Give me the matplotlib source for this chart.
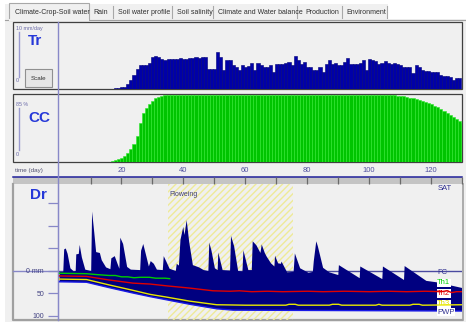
import numpy as np
import matplotlib.pyplot as plt
from matplotlib.patches import Rectangle

plt.rcParams['font.family'] = ['Liberation Sans Narrow', 'Liberation Sans', 'DejaVu Sans']
plt.rcParams['hatch.linewidth'] = 1.0

# ---- data ----
tr_days = list(range(18, 130))
tr_vals = [0.1, 0.1, 0.3, 0.4, 0.8, 1.5, 2.3, 3.3, 3.8, 3.8,
           3.9, 4.2, 5.1, 5.4, 5.2, 4.8, 4.7, 4.8, 4.9, 4.9,
           4.8, 5.0, 4.9, 4.9, 5.0, 5.0, 5.1, 5.0, 5.1, 5.1,
           3.2, 3.2, 3.2, 5.9, 5.2, 3.1, 4.7, 4.7, 3.9, 3.6,
           3.1, 3.8, 3.5, 3.7, 4.2, 3.0, 4.2, 3.9, 3.6, 3.5,
           3.9, 2.8, 4.1, 4.1, 4.0, 4.2, 4.4, 3.9, 5.3, 4.7,
           4.1, 4.4, 3.6, 3.5, 3.1, 3.1, 3.6, 2.8, 4.1, 4.7,
           4.1, 4.2, 3.8, 3.8, 4.4, 5.0, 4.1, 4.1, 4.0, 4.2,
           4.7, 3.0, 4.8, 4.7, 4.5, 4.1, 4.2, 4.5, 4.2, 4.1,
           4.2, 4.1, 3.9, 3.6, 3.5, 3.5, 2.6, 3.9, 3.6, 3.1,
           2.9, 2.9, 2.8, 2.8, 2.7, 2.2, 2.1, 2.1, 2.0, 1.4,
           1.7, 1.7]

cc_days = list(range(17, 131))
cc_vals = ([1.5, 2.5, 3.5, 5.5, 8, 12, 17, 23, 33, 50,
            62, 69, 74, 78, 81, 83, 84, 84.5]
           + [85] * 73
           + [84.7, 84.3, 83.8, 83.2, 82.5, 81.7, 80.8, 79.8, 78.7, 77.5,
              76.2, 74.8, 73.3, 71.5, 69.5, 67.3, 65, 62.5, 60, 57.5,
              55, 52, 49])

# root zone depletion (mm, negative = above field capacity)
dr_days = [0, 1.2, 1.5, 2.0, 2.6, 3.5, 4.6, 5.2, 5.4, 6.2, 6.5, 7.2, 8.3, 10.2, 10.5,
           11.2, 11.8, 13.0, 13.6, 15.0, 16.4, 16.7, 17.8, 18.7, 19.3, 19.6, 20.5, 21.8,
           23.0, 26.0, 26.3, 27.0, 27.8, 28.8, 29.4, 30.4, 31.4, 33.3, 33.6, 34.5, 35.5,
           37.5, 37.8, 38.5, 39.0, 39.9, 40.3, 41.0, 41.8, 43.0, 45.0, 46.5, 48.0, 48.3,
           49.0, 50.1, 51.0, 51.2, 52.6, 55.0, 55.3, 56.3, 57.6, 59.0, 59.3, 60.9, 62.0,
           62.3, 63.5, 64.8, 65.2, 66.2, 66.8, 68.2, 69.3, 69.5, 70.5, 71.4, 71.6, 73.4,
           75.5, 75.9, 77.6, 80.3, 81.7, 82.0, 82.8, 83.3, 85.0, 87.0, 89.9, 90.1, 96.8,
           97.0, 104.1, 104.3, 111.1, 111.3, 118.3, 121.5, 130.0]
dr_top = [2, 2, -48, -50, -38, -6, 1, 0, -37, -38, -58, -30, -3, 0, -132,
          -85, -42, -40, -24, -8, -4, -28, -33, -16, -5, -74, -60, -9,
          -3, -2, -45, -60, -38, -10, -22, -16, -3, -2, -33, -20, -5,
          0, -16, -12, -69, -98, -80, -113, -65, -13, -8, -2, 0, -63,
          -45, -6, -2, -41, -2, -1, -78, -55, 0, 1, -46, -2, -2,
          -66, -57, -40, -59, -40, -32, -17, -10, -34, -17, -16, -21, 3,
          2, -39, -6, 4, 2, -22, -66, -55, -7, 3, 9, -13, 16,
          -10, 18, -10, 20, -11, 22, 25, 38]

pwp_days = [0, 8.7, 16, 23.7, 29.2, 34.5, 42, 50.7, 56, 130]
pwp_vals = [24, 25, 37, 49, 57, 64, 74, 84, 87, 89]

th1_days = [0, 8.7, 12, 16, 18, 20, 22, 24, 26, 29, 31, 34, 35.5]
th1_vals = [5, 6, 8, 10, 10, 13, 13, 15, 14, 14, 16, 16, 17]

th2_days = [0, 8.7, 16, 23.7, 29.2, 34.5, 42, 49.5, 55, 58, 62, 67, 72, 80, 85, 92,
            100, 106, 112, 118, 123, 125, 126.5, 128, 130]
th2_vals = [11, 12, 20, 27, 29, 33, 38, 44, 45, 44, 46, 45, 46, 45, 46, 45,
            46, 45, 46, 45, 46, 44, 48, 46, 46]

th3_days = [0, 8.7, 16, 23.7, 29.2, 34.5, 42, 50.7, 60, 73, 74, 76, 77, 87, 88, 90,
            91, 102, 103, 104, 113, 114, 116, 117, 130]
th3_vals = [18, 19, 31, 43, 52, 58, 67, 75, 76, 76, 74, 74, 76, 76, 74, 74,
            76, 76, 74, 76, 76, 74, 74, 76, 75]

flower_start, flower_end = 35, 75.4
time_ticks = list(range(10, 131, 10))
time_labels = ['', '20', '', '40', '', '60', '', '80', '', '100', '', '120', '']
dr_ticks = [-150, -100, -50, 0, 50, 100]
dr_labels = ['', '', '', '0 mm', '50', '100']

tabs = ['Climate-Crop-Soil water', 'Rain', 'Soil water profile', 'Soil salinity',
        'Climate and Water balance', 'Production', 'Environment']
tab_x = [15, 93, 118, 177, 218, 305, 346]
tab_sep = [89, 113, 172, 213, 297, 342, 387]

# ---- layout in screen pixels ----
W, H = 466, 325
BG = '#f0f0f0'
AXC = '#8888c8'
XLIM = (-0.5, 129.8)

fig = plt.figure(figsize=(W / 100, H / 100), dpi=100)
fig.patch.set_facecolor('white')


def px_axes(x0, y0, x1, y1, z=1):
    a = fig.add_axes([x0 / W, 1 - y1 / H, (x1 - x0) / W, (y1 - y0) / H], zorder=z)
    a.patch.set_alpha(0)
    return a


bg = px_axes(0, 0, W, H, z=0)
bg.set_xlim(0, W)
bg.set_ylim(H, 0)
bg.axis('off')

# tab strip and page
bg.add_patch(Rectangle((5, 4), 383, 16, fc=BG, ec='none'))
bg.add_patch(Rectangle((5, 19), 461, 303, fc=BG, ec='none'))
bg.plot([5, 466], [19.5, 19.5], color='#a0a0a0', lw=0.8)
bg.add_patch(Rectangle((9, 3), 80, 17, fc=BG, ec='#a8a8a8', lw=0.8))
bg.plot([9.5, 88], [20, 20], color=BG, lw=1.5)
for s in tab_sep[1:]:
    bg.plot([s, s], [6, 18], color='#a8a8a8', lw=0.8)
for t, x in zip(tabs, tab_x):
    bg.text(x, 12, t, fontsize=5, color='#303030', va='center', ha='left')

# panel frames
for y0, y1 in [(22, 89), (94, 162)]:
    bg.add_patch(Rectangle((13, y0), 449, y1 - y0, fc='none', ec='#404040', lw=0.9))
bg.plot([13, 13, 462], [184, 320, 320], color='#a0a0a0', lw=1.6)
bg.plot([462.5, 462.5], [184, 320], color='#a0a0a0', lw=1.2)

# left labels
bg.text(16, 28.5, '10 mm/day', fontsize=3.8, color='#6a6aa8', va='center')
bg.text(28, 41, 'Tr', fontsize=11, color='#2638d8', fontweight='bold', va='center')
bg.plot([19, 19], [32, 77], color='#9a9ad0', lw=1)
bg.text(16, 81, '0', fontsize=4, color='#6a6aa8', va='center')
bg.add_patch(Rectangle((25, 69), 27, 18, fc='#e6e6e6', ec='#909090', lw=0.8))
bg.text(38.5, 78, 'Scale', fontsize=4.5, color='#303030', ha='center', va='center')

bg.text(16, 104, '85 %', fontsize=3.8, color='#6a6aa8', va='center')
bg.text(28, 118, 'CC', fontsize=11, color='#2638d8', fontweight='bold', va='center')
bg.plot([19, 19], [108, 150], color='#9a9ad0', lw=1)
bg.text(16, 155, '0', fontsize=4, color='#6a6aa8', va='center')

bg.text(15, 170.5, 'time (day)', fontsize=4.5, color='#505070', va='center')
bg.add_patch(Rectangle((13, 176.5), 449, 7, fc='#c4c4c4', ec='none'))
bg.plot([13, 462], [176.5, 176.5], color='#20209a', lw=1.1)

bg.text(30, 195, 'Dr', fontsize=11, color='#2638d8', fontweight='bold', va='center')
bg.plot([13, 58], [271, 271], color=AXC, lw=1)
bg.plot([58, 58], [22, 320], color=AXC, lw=1)

# ---- Tr ----
ax_tr = px_axes(58, 22, 462, 89)
ax_tr.bar(tr_days, tr_vals, width=1.0, color='#0000a8', edgecolor='#000078', linewidth=0.4)
ax_tr.set_xlim(*XLIM)
ax_tr.set_ylim(0, 10.8)
ax_tr.axis('off')

# ---- CC ----
ax_cc = px_axes(58, 94, 462, 162)
ax_cc.bar(cc_days, cc_vals, width=1.0, color='#00c400', edgecolor='#2ee82e', linewidth=0.4)
ax_cc.set_xlim(*XLIM)
ax_cc.set_ylim(0, 86.3)
ax_cc.axis('off')

# ---- time axis ----
ax_t = px_axes(58, 176.5, 462, 183.5, z=2)
ax_t.set_xlim(*XLIM)
ax_t.set_ylim(0, 1)
ax_t.set_yticks([])
for sp in ax_t.spines.values():
    sp.set_visible(False)
ax_t.set_xticks(time_ticks)
ax_t.set_xticklabels(time_labels)
ax_t.tick_params(axis='x', top=True, labeltop=True, bottom=False, labelbottom=False,
                 direction='in', length=5.2, width=0.9, color='#6a6a6a', pad=2,
                 labelsize=5.5, labelcolor='#5050a0')

# ---- Dr ----
ax_dr = px_axes(58, 184, 462, 320)
ax_dr.set_xlim(*XLIM)
ax_dr.set_ylim(108.9, -193.3)
ax_dr.axvspan(flower_start, flower_end, facecolor='none', edgecolor='#eeea98',
              hatch='/////', linewidth=0, zorder=0)
ax_dr.text(flower_start + 0.3, -170, 'Floweing', fontsize=5, color='#404070', va='center')
ax_dr.axhline(0, color='#4a4aa0', lw=1, zorder=1)
poly_x = np.concatenate([dr_days, pwp_days[::-1]])
poly_y = np.concatenate([dr_top, pwp_vals[::-1]])
ax_dr.fill(poly_x, poly_y, color='#000080', lw=0, zorder=2)
ax_dr.plot(pwp_days, pwp_vals, color='#1818e8', lw=1, zorder=3)
ax_dr.plot(th1_days, th1_vals, color='#00cc00', lw=1, zorder=4)
ax_dr.plot(th2_days, th2_vals, color='#e00000', lw=1, zorder=4)
ax_dr.plot(th3_days, th3_vals, color='#e8e800', lw=1, zorder=4)
ax_dr.set_xticks([])
ax_dr.set_yticks(dr_ticks)
ax_dr.set_yticklabels(dr_labels)
ax_dr.tick_params(axis='y', direction='out', length=7, width=0.9, color=AXC, pad=3,
                  labelsize=5, labelcolor='#404080')
for k, sp in ax_dr.spines.items():
    sp.set_visible(k == 'left')
ax_dr.spines['left'].set_color(AXC)

lab_box = dict(facecolor='white', edgecolor='none', pad=0.4)
ax_dr.text(121.8, -184, 'SAT', fontsize=5.5, color='#303090', va='center')
ax_dr.text(121.8, 4, 'FC', fontsize=5.5, color='#303090', va='center')
ax_dr.text(121.8, 26, 'Th1', fontsize=5.5, color='#00cc00', va='center', bbox=lab_box)
ax_dr.text(121.8, 50, 'Th2', fontsize=5.5, color='#e00000', va='center', bbox=lab_box)
ax_dr.text(121.8, 73, 'Th3', fontsize=5.5, color='#e0e000', va='center', bbox=lab_box)
ax_dr.text(121.8, 92, 'PWP', fontsize=5.5, color='#303090', va='center', bbox=lab_box)

fig.savefig('out.png', dpi=100, facecolor=fig.get_facecolor())
